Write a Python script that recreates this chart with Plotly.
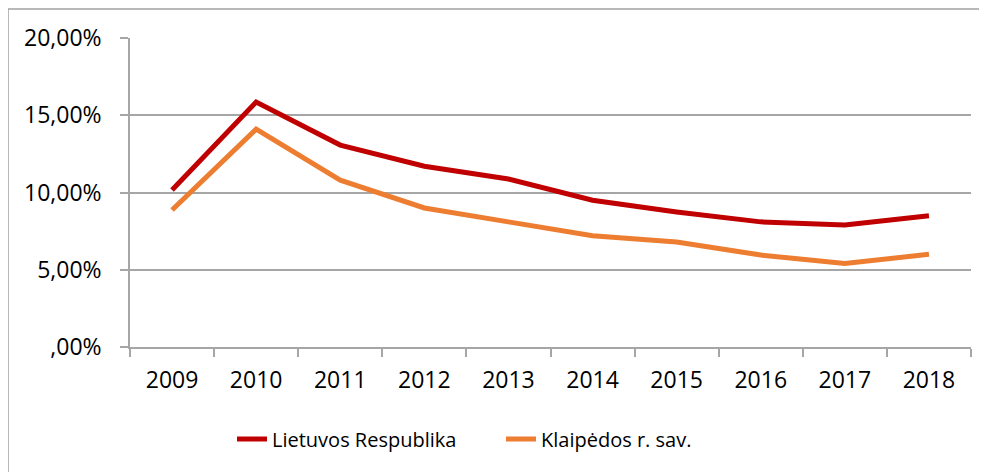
import plotly.graph_objects as go

years = ["2009", "2010", "2011", "2012", "2013", "2014", "2015", "2016", "2017", "2018"]
lietuva = [10.16, 15.86, 13.07, 11.70, 10.87, 9.50, 8.74, 8.10, 7.90, 8.50]
klaipeda = [8.87, 14.10, 10.80, 9.00, 8.10, 7.20, 6.80, 5.95, 5.40, 6.00]
y_tickvals = [0, 5, 10, 15, 20]
y_ticktext = [",00%", "5,00%", "10,00%", "15,00%", "20,00%"]

FONT = "Open Sans"

fig = go.Figure()
fig.add_trace(go.Scatter(x=years, y=lietuva, mode="lines", name="Lietuvos Respublika",
                         line=dict(color="#C00000", width=5)))
fig.add_trace(go.Scatter(x=years, y=klaipeda, mode="lines", name="Klaipėdos r. sav.",
                         line=dict(color="#ED7D31", width=5)))

border = dict(color="#A0A0A0", width=1.5)
fig.update_layout(
    width=979, height=464,
    margin=dict(l=122, r=16, t=30, b=125),
    paper_bgcolor="white", plot_bgcolor="white",
    font=dict(family=FONT, color="black", size=20),
    showlegend=True,
    legend=dict(orientation="h", x=(232 - 130) / 841, xanchor="left", y=-0.235, yanchor="top",
                font=dict(size=20, family=FONT), tracegroupgap=0,
                entrywidth=224, entrywidthmode="pixels",
                itemsizing="constant"),
    shapes=[
        dict(type="line", xref="paper", yref="paper",
             x0=-122/841, x1=1.1, y0=1 + 29/309, y1=1 + 29/309, line=border, layer="below"),
        dict(type="line", xref="paper", yref="paper",
             x0=-122/841, x1=-122/841, y0=-1.0, y1=1 + 29/309, line=border, layer="below"),
    ],
)
fig.update_xaxes(type="category", range=[-0.5, 9.5], tickson="boundaries",
                 ticks="outside", ticklen=8, tickcolor="#A6A6A6", tickwidth=1.5,
                 showline=True, linecolor="#A6A6A6", linewidth=1.5,
                 showgrid=False, tickfont=dict(size=23, family=FONT),
                 ticklabelstandoff=12)
fig.update_yaxes(range=[0, 20], tickvals=y_tickvals, ticktext=y_ticktext,
                 ticks="outside", ticklen=8, tickcolor="#A6A6A6", tickwidth=1.5,
                 showline=True, linecolor="#A6A6A6", linewidth=1.5,
                 showgrid=True, gridcolor="#A6A6A6", gridwidth=1.5,
                 zeroline=False, tickfont=dict(size=23, family=FONT),
                 ticklabelstandoff=14)

fig.write_html("out.html")
